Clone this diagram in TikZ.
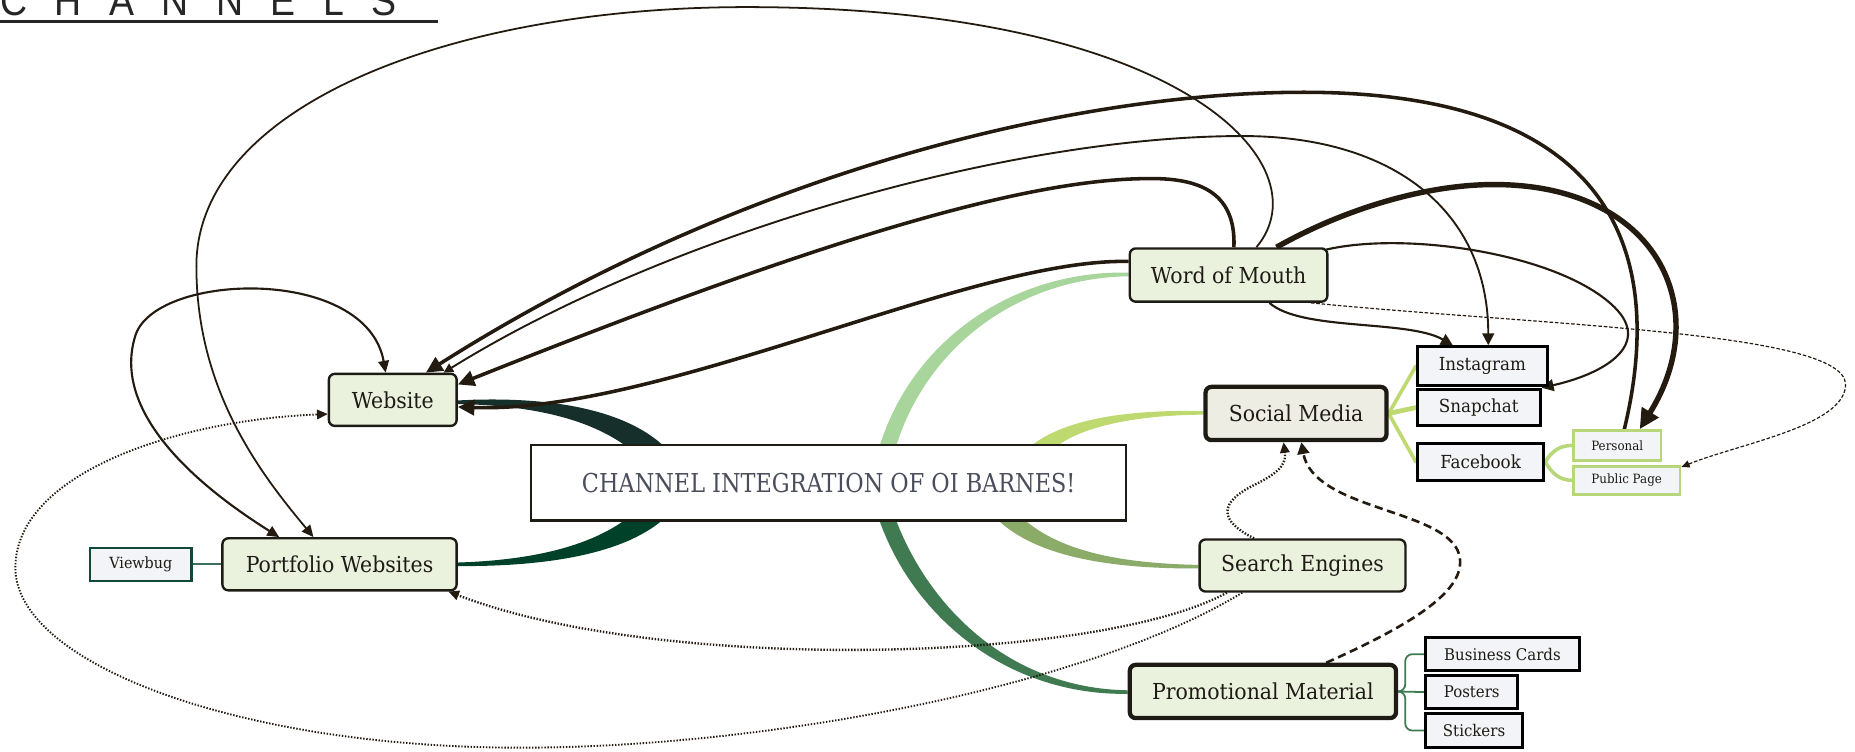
\documentclass[tikz,border=0pt]{standalone}
\usepackage{fontspec}
\setmainfont{DejaVu Serif}[FakeStretch=0.93]
\newfontfamily\titlefont{Liberation Sans}[FakeStretch=0.9]
\newfontfamily\centerfont{DejaVu Serif}[FakeStretch=0.86]
\usetikzlibrary{arrows.meta,calc}
\pgfdeclarelayer{bg}
\pgfsetlayers{bg,main}
\definecolor{ink}{HTML}{231A10}
\definecolor{boxfill}{HTML}{EAF2DE}
\definecolor{smfill}{HTML}{EEEDE3}
\definecolor{subfill}{HTML}{F3F4F7}
\definecolor{boxline}{HTML}{1E1B15}
\definecolor{brWeb}{HTML}{172F2A}
\definecolor{brPort}{HTML}{00412A}
\definecolor{brWom}{HTML}{A8D59B}
\definecolor{brSm}{HTML}{BDD96F}
\definecolor{brSe}{HTML}{8BAB69}
\definecolor{brPm}{HTML}{3F7A51}
\definecolor{fbgreen}{HTML}{B7D77A}
\definecolor{vbgreen}{HTML}{0E4A36}
\definecolor{ctext}{HTML}{4A4D5C}
\newcommand\tsp{\hspace{11.6pt}}
\tikzset{
  mainbox/.style={draw=boxline, fill=boxfill, line width=1pt, rounded corners=2.5pt, inner sep=0pt, font=\fontsize{9.3}{11}\selectfont, text=boxline},
  thickbox/.style={mainbox, line width=1.8pt},
  subbox/.style={draw=black, fill=subfill, line width=1.2pt, inner sep=0pt, font=\fontsize{7.6}{9}\selectfont, text=boxline},
  promobox/.style={subbox, font=\fontsize{6.8}{8}\selectfont},
  fbbox/.style={draw=fbgreen, fill=subfill, line width=1.2pt, inner sep=0pt, font=\fontsize{5.4}{6}\selectfont, text=boxline},
  thinc/.style={draw=ink, line width=0.75pt, -{Triangle[length=5pt,width=4.5pt]}},
  loopc/.style={draw=ink, line width=0.9pt, {Triangle[length=5pt,width=4.5pt]}-{Triangle[length=5pt,width=4.5pt]}},
  thickc/.style={draw=ink, line width=1.5pt, -{Triangle[length=7pt,width=6.5pt]}},
  vthickc/.style={draw=ink, line width=2.3pt, -{Triangle[length=8.5pt,width=8pt]}},
  medc/.style={draw=ink, line width=0.9pt, -{Triangle[length=5pt,width=5pt]}},
  bothc/.style={draw=ink, line width=0.8pt, {Triangle[length=4pt,width=4pt]}-{Triangle[length=5pt,width=5pt]}},
  dashc/.style={draw=ink, line width=0.5pt, dash pattern=on 1.5pt off 0.8pt, -{Triangle[length=3.5pt,width=3pt]}},
  dotc/.style={draw=ink, line width=1pt, dash pattern=on 0.6pt off 0.7pt, -{Triangle[length=4.5pt,width=4pt]}},
  dashcc/.style={draw=ink, line width=1.1pt, dash pattern=on 3.5pt off 2pt, -{Triangle[length=5pt,width=5pt]}},
}
\begin{document}
\begin{tikzpicture}[x=0.5pt,y=-0.5pt]
\useasboundingbox (0,0) rectangle (1568,635.6);

% title
\node[anchor=base west, inner sep=0pt, font=\titlefont\fontsize{17.6}{18}\selectfont, text=black!85] (title) at (0,12.7) {C\tsp H\tsp A\tsp N\tsp N\tsp E\tsp L\tsp S};
\draw[line width=1.1pt, black!85] (0,18) -- (370,18);

% nodes
\node[draw=boxline, fill=white, line width=1pt, inner sep=0pt, minimum width=251.5pt, minimum height=32pt, font=\centerfont\fontsize{11}{13}\selectfont, text=ctext] (center) at (700.5,408) {CHANNEL INTEGRATION OF OI BARNES!};
\node[mainbox, minimum width=54pt, minimum height=22pt] (web) at (332,338) {Website};
\node[mainbox, minimum width=99pt, minimum height=22pt] (port) at (287,477) {Portfolio Websites};
\node[draw=vbgreen, fill=subfill, line width=1pt, inner sep=0pt, minimum width=43pt, minimum height=14pt, font=\fontsize{6.5}{8}\selectfont, text=boxline] (vb) at (119,477) {Viewbug};
\node[mainbox, minimum width=83.5pt, minimum height=22.5pt] (wom) at (1038.5,232.5) {Word of Mouth};
\node[thickbox, fill=smfill, minimum width=76.5pt, minimum height=22.5pt] (sm) at (1095.5,349.5) {Social Media};
\node[mainbox, minimum width=87pt, minimum height=22pt] (se) at (1101,478) {Search Engines};
\node[thickbox, minimum width=112.5pt, minimum height=22.5pt] (pm) at (1067.5,584.5) {Promotional Material};
\node[subbox, minimum width=55pt, minimum height=16.5pt] (inst) at (1253,309.5) {Instagram};
\node[subbox, minimum width=52pt, minimum height=15.5pt] (snap) at (1250,344.5) {Snapchat};
\node[subbox, minimum width=53.5pt, minimum height=15.5pt] (fb) at (1251.5,390.5) {Facebook};
\node[fbbox, minimum width=37pt, minimum height=12.5pt] (pers) at (1367,376.5) {Personal};
\node[fbbox, minimum width=45pt, minimum height=12pt] (pub) at (1375,406) {Public Page};
\node[promobox, minimum width=65pt, minimum height=14pt] (bc) at (1270,553) {Business Cards};
\node[promobox, minimum width=39pt, minimum height=14pt] (pos) at (1244,585) {Posters};
\node[promobox, minimum width=41pt, minimum height=14.5pt] (stk) at (1246,617.5) {Stickers};

\begin{pgfonlayer}{bg}
% tapered branches
\fill[brWeb] (web.east) ++(0,0.5) .. controls (470,334) and (535,348) .. (566,382) -- (540,386) .. controls (512,360) and (465,343) .. ($(web.east)+(0,3.5)$) -- cycle;
\fill[brPort] ($(port.east)+(0,1.5)$) .. controls (470,479) and (535,466) .. (566,434) -- (540,430) .. controls (512,456) and (465,473) .. ($(port.east)+(0,-1.5)$) -- cycle;
\fill[brWom] ($(wom.west)+(0,-2)$) .. controls (860,228) and (770,285) .. (742,382) -- (756,382) .. controls (782,292) and (862,235) .. ($(wom.west)+(0,1)$) -- cycle;
\fill[brSm] ($(sm.west)+(0,-2)$) .. controls (950,346) and (895,355) .. (868,380) -- (890,380) .. controls (910,362) and (955,351) .. ($(sm.west)+(0,1)$) -- cycle;
\fill[brSe] ($(se.west)+(0,2.5)$) .. controls (930,481) and (870,468) .. (840,436) -- (862,436) .. controls (890,462) and (935,476) .. ($(se.west)+(0,-0.5)$) -- cycle;
\fill[brPm] ($(pm.west)+(0,2)$) .. controls (850,588) and (770,520) .. (742,436) -- (756,436) .. controls (785,515) and (855,582) .. ($(pm.west)+(0,-1)$) -- cycle;

% sub branches
\draw[brSm, line width=1.5pt, line cap=round] (sm.east) -- (inst.west);
\draw[brSm, line width=2pt, line cap=round] (sm.east) -- (snap.west);
\draw[brSm, line width=1.5pt, line cap=round] (sm.east) -- (fb.west);
\draw[fbgreen, line width=1.5pt] (fb.east) to[out=60,in=180] (pers.west);
\draw[fbgreen, line width=1.5pt] (fb.east) to[out=-60,in=180] (pub.west);
\draw[brPm, line width=0.75pt, rounded corners=3pt] (pm.east) -- ++(6,0) |- (bc.west);
\draw[brPm, line width=0.75pt] (pm.east) -- (pos.west);
\draw[brPm, line width=0.75pt, rounded corners=3pt] (pm.east) -- ++(6,0) |- (stk.west);
\draw[vbgreen!80, line width=0.75pt] (vb.east) -- (port.west);

% connectors
\draw[thinc] ($(wom.north)+(23.5,0)$) .. controls (1120,140) and (1000,6) .. (631,6) .. controls (380,6) and (166,90) .. (166,225) .. controls (166,330) and (220,400) .. ($(port.north)+(-22,0)$);
\draw[loopc] ($(port.north)+(-51,0)$) .. controls (150,400) and (95,340) .. (115,282) .. controls (135,230) and (310,225) .. ($(web.north)+(-6,0)$);
\draw[thickc] ($(pers.north)+(6,0)$) .. controls (1405,230) and (1380,78) .. (1102,78) .. controls (900,78) and (620,150) .. ($(web.north)+(28,0)$);
\draw[bothc] ($(web.north)+(43,0)$) .. controls (560,200) and (850,115) .. (1050,115) .. controls (1180,115) and (1258,180) .. ($(inst.north)+(5,0)$);
\draw[thickc] ($(wom.north)+(4.5,0)$) .. controls (1045,160) and (1010,150) .. (968,151) .. controls (850,152) and (650,220) .. ($(web.east)+(0,-13)$);
\draw[thickc] ($(wom.west)+(0,-11.5)$) .. controls (820,218) and (560,350) .. ($(web.east)+(0,6)$);
\draw[vthickc] ($(wom.north)+(40.5,0)$) .. controls (1130,180) and (1200,156) .. (1263,156) .. controls (1400,156) and (1450,260) .. ($(pers.north)+(19,0)$);
\draw[medc] ($(wom.north east)+(-2,2)$) .. controls (1190,195) and (1320,215) .. (1365,260) .. controls (1395,290) and (1360,315) .. (snap.north east);
\draw[medc] ($(wom.south)+(34.5,0)$) .. controls (1100,280) and (1190,270) .. ($(inst.north)+(-25,0)$);
\draw[dashc] ($(wom.south)+(69.5,0)$) .. controls (1300,275) and (1560,280) .. (1560,325) .. controls (1560,360) and (1470,375) .. ($(pub.north east)+(0,2)$);
\draw[dotc] ($(se.south)+(-64,0)$) .. controls (930,560) and (560,570) .. ($(port.south)+(92,0)$);
\draw[dotc, line width=0.8pt] ($(se.south)+(-51,0)$) .. controls (920,580) and (650,632) .. (440,632) .. controls (200,632) and (13,560) .. (13,480) .. controls (13,400) and (150,355) .. ($(web.west)+(0,12)$);
\draw[dotc] ($(se.north)+(-41,0)$) .. controls (1030,440) and (1030,425) .. (1060,410) .. controls (1085,398) and (1087,390) .. ($(sm.south)+(-10.5,0)$);
\draw[dashcc] ($(pm.north)+(53.5,0)$) .. controls (1200,525) and (1245,495) .. (1232,465) .. controls (1215,430) and (1110,430) .. ($(sm.south)+(4.5,0)$);
\end{pgfonlayer}
\end{tikzpicture}
\end{document}
